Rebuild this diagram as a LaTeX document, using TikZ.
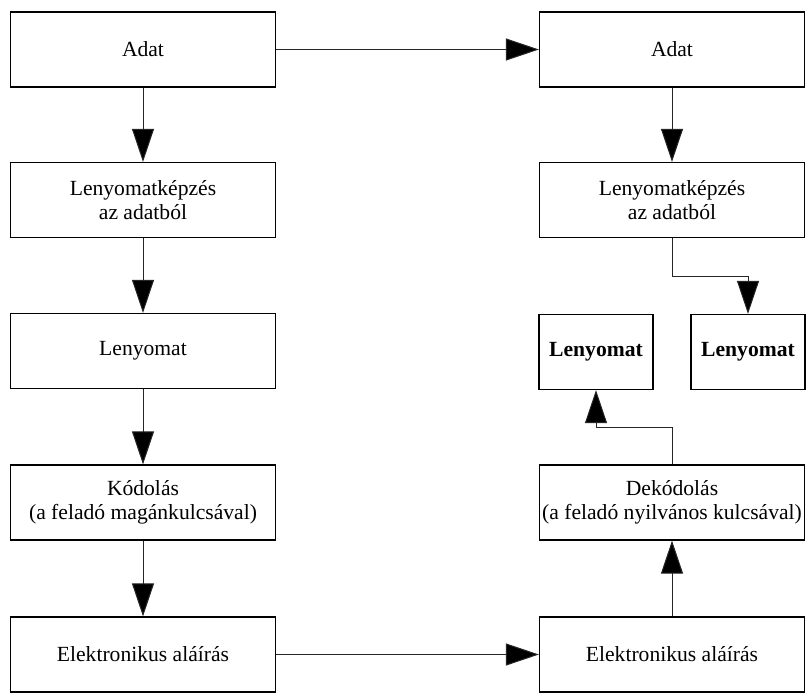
\documentclass[tikz,border=0pt]{standalone}
\usepackage{fontspec}
\setmainfont{Liberation Serif}
\usetikzlibrary{arrows.meta}
\begin{document}
\begin{tikzpicture}[x=1pt,y=-1pt,
  box/.style={draw=black,line width=1.2pt,minimum width=265pt,minimum height=75pt,
    inner sep=0pt,align=center,font=\fontsize{21.6}{24}\selectfont},
  smallbox/.style={box,minimum width=114pt,font=\fontsize{21.6}{24}\selectfont\bfseries},
  arr/.style={draw=black!85,line width=1pt,-{Triangle[length=33pt,width=22pt,fill=black]}}]
\useasboundingbox (0,0) rectangle (806,693);
% sender side
\node[box] (l1) at (143,49.5) {Adat};
\node[box] (l2) at (143,200) {Lenyomatképzés\\az adatból};
\node[box] (l3) at (143,351) {Lenyomat};
\node[box] (l4) at (143,502.5) {Kódolás\\(a feladó magánkulcsával)};
\node[box] (l5) at (143,654.5) {Elektronikus aláírás};
% receiver side
\node[box] (r1) at (672,49.5) {Adat};
\node[box] (r2) at (672,200) {Lenyomatképzés\\az adatból};
\node[smallbox] (rl) at (596,352) {Lenyomat};
\node[smallbox] (rr) at (748,352) {Lenyomat};
\node[box] (r4) at (672,502.5) {Dekódolás\\(a feladó nyilvános kulcsával)};
\node[box] (r5) at (672,654.5) {Elektronikus aláírás};
% connectors
\draw[arr] (l1) -- (l2);
\draw[arr] (l2) -- (l3);
\draw[arr] (l3) -- (l4);
\draw[arr] (l4) -- (l5);
\draw[arr] (l1) -- (r1);
\draw[arr] (l5) -- (r5);
\draw[arr] (r1) -- (r2);
\draw[arr] (r2.south) -- ++(0,38) -| (rr.north);
\draw[arr] (r5) -- (r4);
\draw[arr] (r4.north) -- ++(0,-37) -| (rl.south);
\end{tikzpicture}
\end{document}
